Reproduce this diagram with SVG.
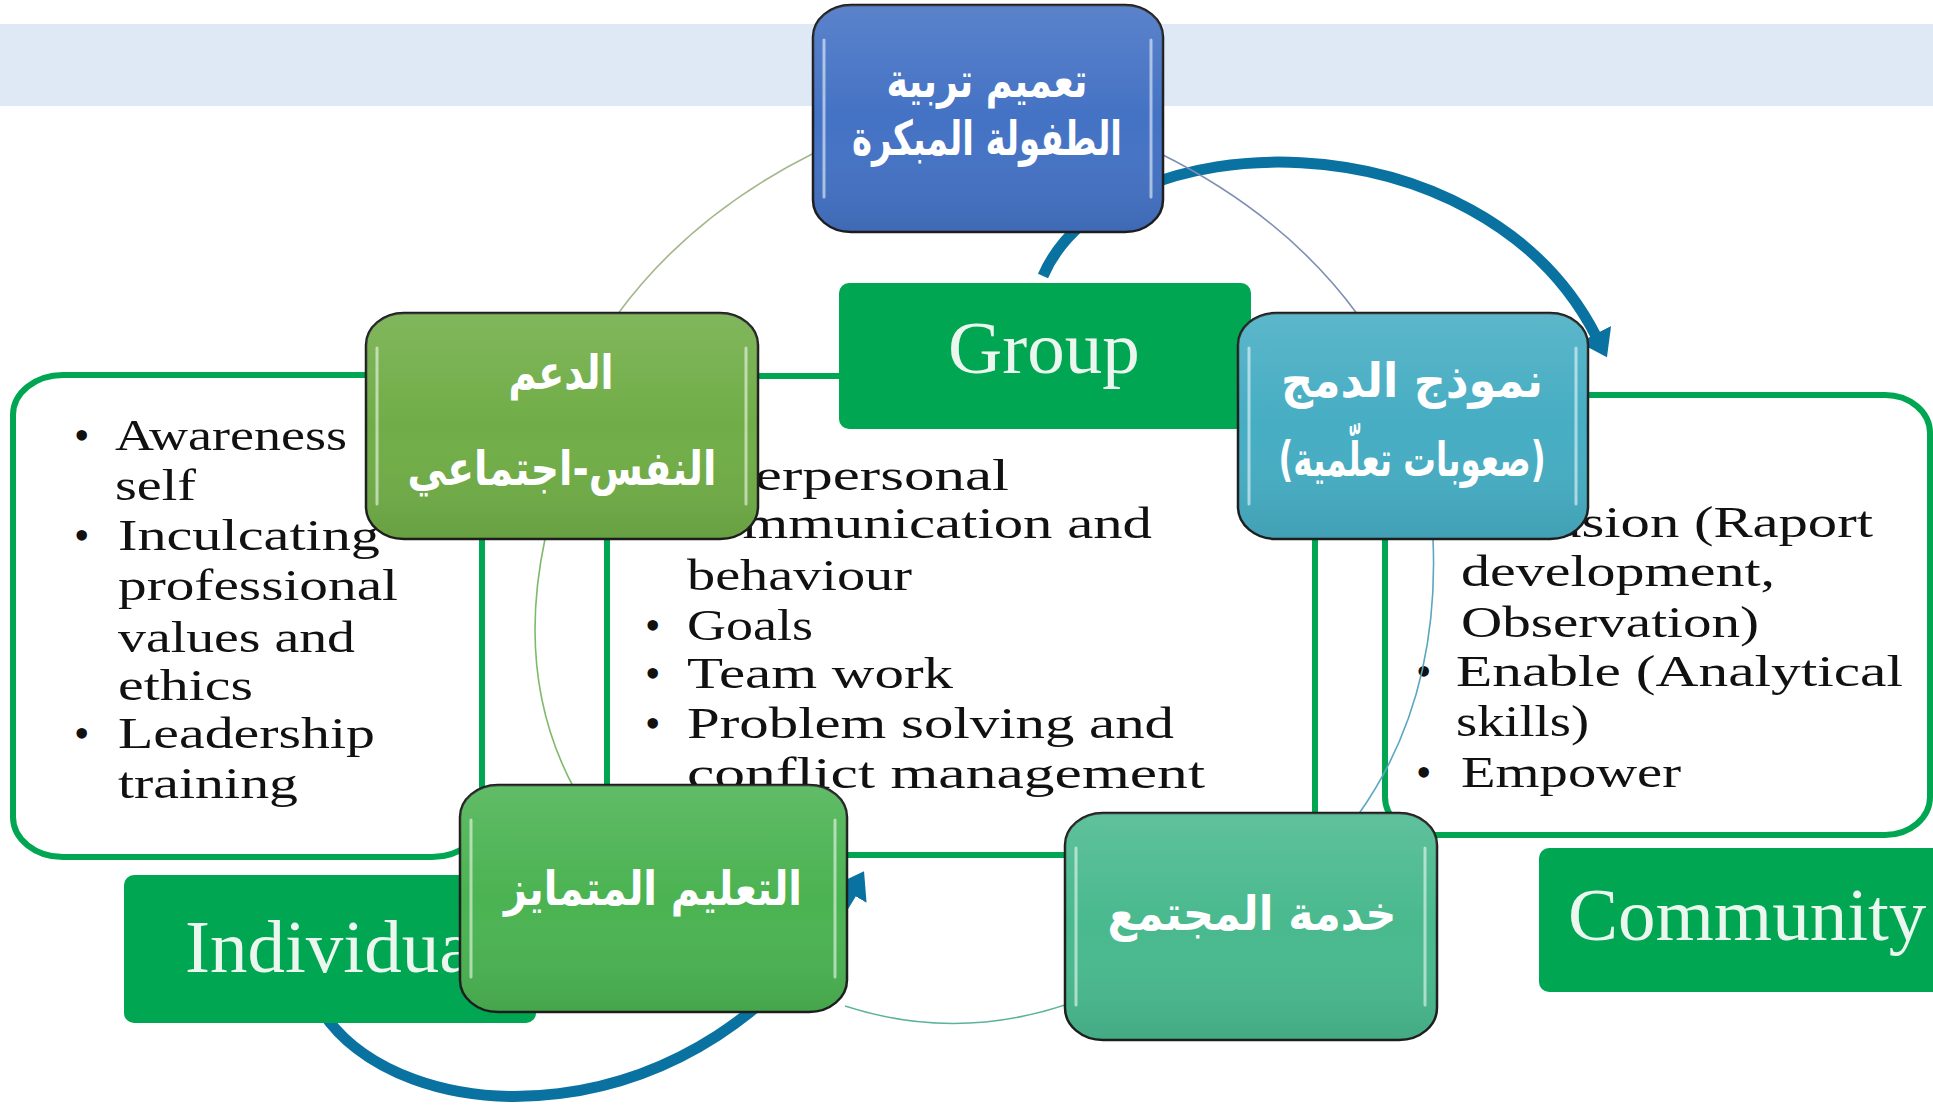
<svg xmlns="http://www.w3.org/2000/svg" width="1933" height="1110" viewBox="0 0 1933 1110">
<defs>
<style>
.box{fill:#fff;stroke:#00a651;stroke-width:6}
.lbl{fill:#00a651}
.lbltx{font-family:"Liberation Serif",serif;font-size:75px;fill:#eaf6ee}
.bt{font-family:"Liberation Serif",serif;font-size:44px;fill:#111}
.node{stroke:#1e1e1e;stroke-width:2.5}
.gloss{fill:url(#gl);stroke:none}
.hl{stroke:#fff;stroke-opacity:.55;stroke-width:3;stroke-linecap:round;fill:none}
.ar{font-family:"DejaVu Sans",sans-serif;font-weight:bold;font-size:48px;fill:#fff;text-anchor:middle}
.arc{fill:none;stroke-width:1.6}
.big{fill:none;stroke:#0a72a0;stroke-width:11}
</style>
<linearGradient id="gl" x1="0" y1="0" x2="0" y2="1">
<stop offset="0" stop-color="#fff" stop-opacity=".12"/>
<stop offset=".5" stop-color="#fff" stop-opacity="0"/>
<stop offset="1" stop-color="#000" stop-opacity=".08"/>
</linearGradient>
<marker id="ah" markerUnits="userSpaceOnUse" markerWidth="26" markerHeight="36" viewBox="0 0 26 36" refX="2" refY="18" orient="auto"><path d="M0 0 L26 18 L0 36 Z" fill="#0a72a0"/></marker>
</defs>
<rect x="0" y="24" width="1933" height="82" fill="#dee9f5"/>
<g id="connectors">
<path class="big" d="M1043 276 C1110 120 1480 110 1596 336" marker-end="url(#ah)"/>
<path class="big" d="M318 1005 C395 1138 705 1146 852 892" marker-end="url(#ah)"/>
</g>
<g id="box-individual">
<rect class="box" x="13" y="375" width="469" height="482" rx="50" ry="40"/>
<text class="bt" x="74" y="450">•</text>
<text class="bt" x="115" y="450" textLength="232" lengthAdjust="spacingAndGlyphs">Awareness</text>
<text class="bt" x="115" y="500" textLength="81" lengthAdjust="spacingAndGlyphs">self</text>
<text class="bt" x="74" y="550">•</text>
<text class="bt" x="118" y="550" textLength="262" lengthAdjust="spacingAndGlyphs">Inculcating</text>
<text class="bt" x="118" y="600" textLength="280" lengthAdjust="spacingAndGlyphs">professional</text>
<text class="bt" x="118" y="652" textLength="237" lengthAdjust="spacingAndGlyphs">values and</text>
<text class="bt" x="118" y="700" textLength="135" lengthAdjust="spacingAndGlyphs">ethics</text>
<text class="bt" x="74" y="748">•</text>
<text class="bt" x="118" y="748" textLength="257" lengthAdjust="spacingAndGlyphs">Leadership</text>
<text class="bt" x="118" y="798" textLength="180" lengthAdjust="spacingAndGlyphs">training</text>
</g>
<g id="box-group">
<rect class="box" x="607" y="376" width="708" height="479" rx="40" ry="35"/>
<text class="bt" x="645" y="490">•</text>
<text class="bt" x="687" y="490" textLength="322" lengthAdjust="spacingAndGlyphs">Interpersonal</text>
<text class="bt" x="687" y="538" textLength="465" lengthAdjust="spacingAndGlyphs">communication  and</text>
<text class="bt" x="687" y="590" textLength="225" lengthAdjust="spacingAndGlyphs">behaviour</text>
<text class="bt" x="645" y="640">•</text>
<text class="bt" x="687" y="640" textLength="126" lengthAdjust="spacingAndGlyphs">Goals</text>
<text class="bt" x="645" y="688">•</text>
<text class="bt" x="687" y="688" textLength="266" lengthAdjust="spacingAndGlyphs">Team  work</text>
<text class="bt" x="645" y="738">•</text>
<text class="bt" x="687" y="738" textLength="487" lengthAdjust="spacingAndGlyphs">Problem solving and</text>
<text class="bt" x="687" y="788" textLength="518" lengthAdjust="spacingAndGlyphs">conflict   management</text>
</g>
<g id="box-community">
<rect class="box" x="1385" y="395" width="545" height="440" rx="45" ry="38"/>
<text class="bt" x="1416" y="537">•</text>
<text class="bt" x="1461" y="537" textLength="412" lengthAdjust="spacingAndGlyphs">Inclusion  (Raport</text>
<text class="bt" x="1461" y="586" textLength="314" lengthAdjust="spacingAndGlyphs">development,</text>
<text class="bt" x="1461" y="637" textLength="298" lengthAdjust="spacingAndGlyphs">Observation)</text>
<text class="bt" x="1416" y="686">•</text>
<text class="bt" x="1456" y="686" textLength="447" lengthAdjust="spacingAndGlyphs">Enable  (Analytical</text>
<text class="bt" x="1456" y="736" textLength="133" lengthAdjust="spacingAndGlyphs">skills)</text>
<text class="bt" x="1416" y="787">•</text>
<text class="bt" x="1461" y="787" textLength="220" lengthAdjust="spacingAndGlyphs">Empower</text>
</g>
<g id="cycle-arcs">
<path class="arc" stroke="#a3b78a" d="M814 153 Q690 215 617 315"/>
<path class="arc" stroke="#7f8fb3" d="M1159 153 Q1285 215 1358 315"/>
<path class="arc" stroke="#7dbb6a" d="M545 539 Q515 680 575 790"/>
<path class="arc" stroke="#5bb39c" d="M845 1006 Q956 1042 1068 1004"/>
<path class="arc" stroke="#5aa7c0" d="M1433 539 Q1440 700 1358 815"/>
</g>
<g id="label-group">
<rect class="lbl" x="839" y="283" width="412" height="146" rx="10"/>
<text class="lbltx" x="948" y="373">Group</text>
</g>
<g id="label-individual">
<rect class="lbl" x="124" y="875" width="412" height="148" rx="10"/>
<text class="lbltx" x="185" y="972">Individual</text>
</g>
<g id="label-community">
<rect class="lbl" x="1539" y="848" width="420" height="144" rx="10"/>
<text class="lbltx" x="1568" y="940">Community</text>
</g>
<g id="node-early-childhood">
<rect class="node" x="813" y="5" width="350" height="227" rx="38" ry="32" fill="#4472c4"/>
<rect class="gloss" x="813" y="5" width="350" height="227" rx="38" ry="32"/>
<path class="hl" d="M824 40 V197 M1151 40 V197"/>
<text class="ar" x="987" y="97" font-size="48" textLength="201" lengthAdjust="spacingAndGlyphs">تعميم تربية</text>
<text class="ar" x="987" y="155" font-size="48" textLength="270" lengthAdjust="spacingAndGlyphs">الطفولة المبكرة</text>
</g>
<g id="node-psychosocial">
<rect class="node" x="366" y="313" width="392" height="226" rx="38" ry="32" fill="#70ad47"/>
<rect class="gloss" x="366" y="313" width="392" height="226" rx="38" ry="32"/>
<path class="hl" d="M377 348 V504 M746 348 V504"/>
<text class="ar" x="561" y="389" textLength="105" lengthAdjust="spacingAndGlyphs">الدعم</text>
<text class="ar" x="562" y="485" font-size="52" textLength="309" lengthAdjust="spacingAndGlyphs">النفس-اجتماعي</text>
</g>
<g id="node-inclusion">
<rect class="node" x="1238" y="313" width="350" height="226" rx="38" ry="32" fill="#46adc3"/>
<rect class="gloss" x="1238" y="313" width="350" height="226" rx="38" ry="32"/>
<path class="hl" d="M1249 348 V504 M1576 348 V504"/>
<text class="ar" x="1412" y="397" font-size="52" textLength="262" lengthAdjust="spacingAndGlyphs">نموذج الدمج</text>
<text class="ar" x="1412" y="476" font-size="42" textLength="267" lengthAdjust="spacingAndGlyphs">(صعوبات تعلّمية)</text>
</g>
<g id="node-differentiated">
<rect class="node" x="460" y="785" width="387" height="227" rx="38" ry="32" fill="#4bb352"/>
<rect class="gloss" x="460" y="785" width="387" height="227" rx="38" ry="32"/>
<path class="hl" d="M471 820 V977 M835 820 V977"/>
<text class="ar" x="653" y="905" font-size="52" textLength="298" lengthAdjust="spacingAndGlyphs">التعليم المتمايز</text>
</g>
<g id="node-community-service">
<rect class="node" x="1065" y="813" width="372" height="227" rx="38" ry="32" fill="#49b98e"/>
<rect class="gloss" x="1065" y="813" width="372" height="227" rx="38" ry="32"/>
<path class="hl" d="M1076 848 V1005 M1425 848 V1005"/>
<text class="ar" x="1252" y="930" font-size="54" textLength="289" lengthAdjust="spacingAndGlyphs">خدمة المجتمع</text>
</g>
</svg>
